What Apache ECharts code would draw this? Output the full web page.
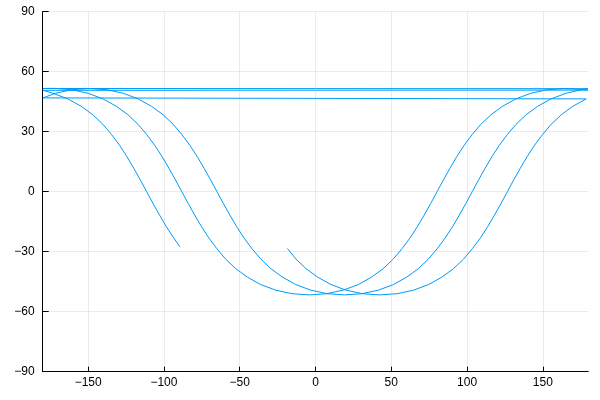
<!DOCTYPE html>
<html><head><meta charset="utf-8">
<script src="https://cdn.jsdelivr.net/npm/echarts@6/dist/echarts.min.js"></script>
<style>html,body{margin:0;padding:0;background:#fff}#c{width:600px;height:400px}</style>
</head><body><div id="c"></div>
<script>
// Ground track: longitude (deg) and latitude (deg)
const seg1Lon = [-18.5, -12.9, -6.2, 1.4, 10.2, 20.0, 30.9, 42.4, 53.9, 64.8, 74.7, 83.4, 91.0, 97.7, 103.5, 108.8, 113.6, 118.1, 122.4, 126.6, 130.8, 135.1, 139.6, 144.4, 149.7, 155.5, 162.2, 169.8, 178.6, 179.8];
const seg1Lat = [-28.4, -33.7, -38.5, -42.7, -46.4, -49.2, -51.0, -51.6, -51.0, -49.2, -46.4, -42.7, -38.5, -33.7, -28.5, -23.1, -17.5, -11.7, -5.9, 0, 5.9, 11.7, 17.5, 23.1, 28.5, 33.7, 38.5, 42.7, 46.4, 46.8];

const seg2Lon = [-179.8, -171.6, -160.7, -149.2, -137.7, -126.8, -117.0, -108.2, -100.6, -93.9, -88.1, -82.8, -78.0, -73.5, -69.2, -65.0, -60.8, -56.5, -52.0, -47.2, -41.9, -36.1, -29.4, -21.8, -13.1, -3.2, 7.7, 19.2, 30.7, 41.6, 51.5, 60.2, 67.8, 74.5, 80.3, 85.6, 90.4, 94.9, 99.2, 103.4, 107.6, 111.9, 116.4, 121.2, 126.5, 132.3, 139.0, 146.6, 155.4, 165.2, 176.1, 179.8];
const seg2Lat = [46.9, 49.2, 51.0, 51.6, 51.0, 49.2, 46.4, 42.7, 38.5, 33.7, 28.5, 23.1, 17.5, 11.7, 5.9, 0, -5.9, -11.7, -17.5, -23.1, -28.5, -33.7, -38.5, -42.7, -46.4, -49.2, -51.0, -51.6, -51.0, -49.2, -46.4, -42.7, -38.5, -33.7, -28.5, -23.1, -17.5, -11.7, -5.9, 0, 5.9, 11.7, 17.5, 23.1, 28.5, 33.7, 38.5, 42.7, 46.4, 49.2, 51.1, 51.5];

const seg3Lon = [-179.8, -172.4, -160.9, -150.0, -140.2, -131.4, -123.8, -117.1, -111.3, -106.0, -101.2, -96.7, -92.4, -88.2, -84.0, -79.7, -75.2, -70.4, -65.1, -59.3, -52.6, -45.0, -36.3, -26.4, -15.5, -4.0, 7.5, 18.4, 28.3, 37.0, 44.6, 51.3, 57.1, 62.4, 67.2, 71.7, 76.0, 80.2, 84.4, 88.7, 93.2, 98.0, 103.3, 109.1, 115.8, 123.4, 132.2, 142.0, 152.9, 164.4, 175.9, 179.8];
const seg3Lat = [51.6, 51.7, 51.0, 49.2, 46.4, 42.7, 38.5, 33.7, 28.5, 23.1, 17.5, 11.7, 5.9, 0, -5.9, -11.7, -17.5, -23.1, -28.5, -33.7, -38.5, -42.7, -46.4, -49.2, -51.0, -51.6, -51.0, -49.2, -46.4, -42.7, -38.5, -33.7, -28.5, -23.1, -17.5, -11.7, -5.9, 0, 5.9, 11.7, 17.5, 23.1, 28.5, 33.7, 38.5, 42.7, 46.4, 49.2, 51.0, 51.6, 51.1, 50.8];

const seg4Lon = [-179.8, -173.2, -163.4, -154.6, -147.0, -140.3, -134.5, -129.2, -124.4, -119.9, -115.6, -111.4, -107.2, -102.9, -98.4, -93.6, -89.4];
const seg4Lat = [50.7, 49.2, 46.4, 42.7, 38.5, 33.7, 28.5, 23.1, 17.5, 11.7, 5.9, 0, -5.9, -11.7, -17.5, -23.1, -27.6];

const xTicks = [-150, -100, -50, 0, 50, 100, 150];
const yTicks = [-90, -60, -30, 0, 30, 60, 90];

function pairs(lon, lat) { return lon.map((x, i) => [x, lat[i]]); }
const track = [].concat(pairs(seg1Lon, seg1Lat), pairs(seg2Lon, seg2Lat), pairs(seg3Lon, seg3Lat), pairs(seg4Lon, seg4Lat));
const fmt = v => (v < 0 ? '\u2212' + Math.abs(v) : String(v));

const chart = echarts.init(document.getElementById('c'), null, { renderer: 'canvas' });
chart.setOption({
  animation: false,
  backgroundColor: '#ffffff',
  grid: { left: 42.7, right: 11.7, top: 11.7, bottom: 28.3, containLabel: false },
  xAxis: {
    type: 'value', min: -180, max: 180, splitNumber: 7,
    axisLine: { show: true, onZero: false, lineStyle: { color: '#000', width: 1 } },
    axisTick: { show: true, inside: true, length: 5, customValues: xTicks, lineStyle: { color: '#000', width: 1 } },
    axisLabel: { customValues: xTicks, formatter: fmt, color: '#000', fontFamily: 'Liberation Sans', fontSize: 12, margin: 5 },
    splitLine: { show: true, customValues: xTicks, lineStyle: { color: 'rgba(0,0,0,0.08)', width: 1 } }
  },
  yAxis: {
    type: 'value', min: -90, max: 90, interval: 30,
    axisLine: { show: true, onZero: false, lineStyle: { color: '#000', width: 1 } },
    axisTick: { show: true, inside: true, length: 6, lineStyle: { color: '#000', width: 1 } },
    axisLabel: { customValues: yTicks, formatter: fmt, color: '#000', fontFamily: 'Liberation Sans', fontSize: 12, margin: 8 },
    splitLine: { show: true, lineStyle: { color: 'rgba(0,0,0,0.08)', width: 1 } }
  },
  series: [{
    type: 'line', data: track, symbol: 'none', showSymbol: false, smooth: false, clip: true,
    lineStyle: { color: '#009AFA', width: 1 }
  }]
});
</script></body></html>
